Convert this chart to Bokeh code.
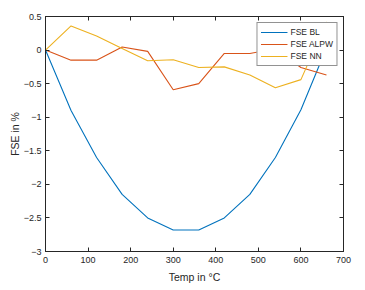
from bokeh.plotting import figure
from bokeh.models import LinearAxis, Range1d, FixedTicker, Legend, LegendItem
from bokeh.embed import file_html
from bokeh.resources import INLINE

temp = [0, 60, 120, 180, 240, 300, 360, 420, 480, 540, 600, 660]
fse_bl = [0, -0.9, -1.6, -2.15, -2.5, -2.68, -2.68, -2.5, -2.15, -1.6, -0.89, 0.03]
fse_alpw = [0, -0.15, -0.15, 0.045, -0.02, -0.59, -0.5, -0.05, -0.05, 0.02, -0.26, -0.37]
fse_nn = [0, 0.36, 0.21, 0.025, -0.16, -0.145, -0.26, -0.25, -0.37, -0.56, -0.44, 0.42]

x_ticks = [0, 100, 200, 300, 400, 500, 600, 700]
y_ticks = [-3, -2.5, -2, -1.5, -1, -0.5, 0, 0.5]

FONT = "Liberation Sans"
AX = "#262626"

p = figure(frame_width=298, frame_height=235, min_border_left=45, min_border_right=10,
           min_border_top=16, min_border_bottom=30,
           x_range=Range1d(0, 700), y_range=Range1d(-3, 0.5),
           output_backend="svg", toolbar_location=None,
           x_axis_label="Temp in \u00b0C", y_axis_label="FSE in %")
p.xgrid.visible = False
p.ygrid.visible = False
p.outline_line_color = AX
p.outline_line_width = 1
p.background_fill_color = "white"
p.border_fill_color = "white"

colors = ["#0072BD", "#D95319", "#EDB120"]
names = ["FSE BL", "FSE ALPW", "FSE NN"]
rs = []
for ys, c in zip([fse_bl, fse_alpw, fse_nn], colors):
    rs.append(p.line(temp, ys, line_color=c, line_width=1.1))

p.add_layout(LinearAxis(), "above")
p.add_layout(LinearAxis(), "right")
for ax in p.xaxis:
    ax.ticker = FixedTicker(ticks=x_ticks)
for ax in p.yaxis:
    ax.ticker = FixedTicker(ticks=y_ticks)
for ax in p.axis:
    ax.major_tick_in = 4
    ax.major_tick_out = 0
    ax.minor_tick_line_color = None
    ax.axis_line_color = AX
    ax.major_tick_line_color = AX
    ax.major_label_text_font = FONT
    ax.major_label_text_font_size = "9px"
    ax.major_label_text_color = AX
    ax.axis_label_text_font = FONT
    ax.axis_label_text_font_size = "10.5px"
    ax.axis_label_text_font_style = "normal"
    ax.axis_label_text_color = AX
    ax.major_label_standoff = 5
for ax in (p.above[0], p.right[0]):
    ax.major_label_text_color = None
    ax.major_label_standoff = 0
p.yaxis[0].major_label_standoff = 4
p.xaxis[0].axis_label_standoff = 4
p.yaxis[0].axis_label_standoff = 0

legend = Legend(items=[LegendItem(label=n, renderers=[r]) for n, r in zip(names, rs)],
                location="top_right")
legend.margin = 6
legend.padding = 3
legend.spacing = 0
legend.glyph_width = 27
legend.glyph_height = 12
legend.label_height = 12
legend.label_standoff = 3
legend.label_text_font = FONT
legend.label_text_font_size = "8.5px"
legend.label_text_color = AX
legend.border_line_color = AX
legend.border_line_width = 1
legend.background_fill_alpha = 1
p.add_layout(legend, "center")

open("out.html", "w").write(file_html(p, INLINE))
